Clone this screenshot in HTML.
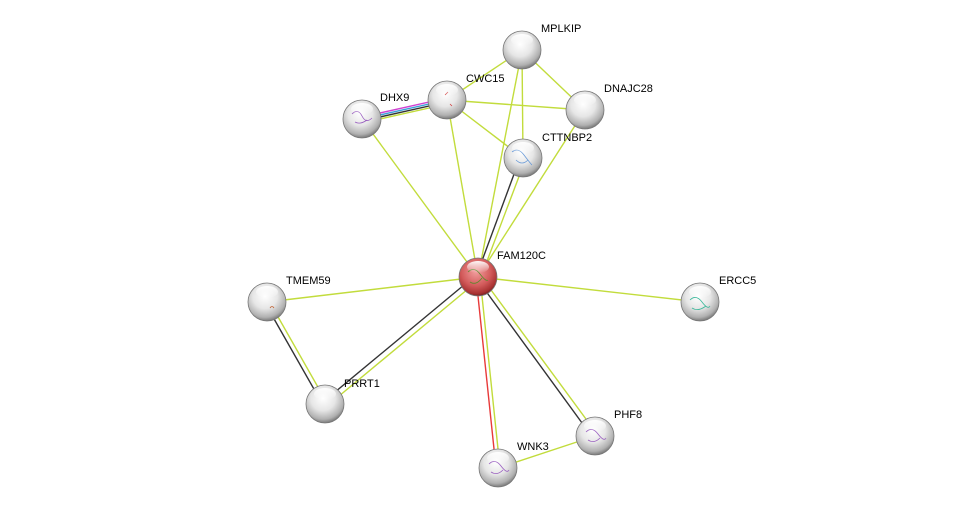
<!DOCTYPE html>
<html><head><meta charset="utf-8"><style>
html,body{margin:0;padding:0;background:#fff;}
svg{display:block;}
text{font-family:"Liberation Sans",sans-serif;font-size:11px;fill:#000;}
</style></head><body>
<svg width="976" height="513" viewBox="0 0 976 513" xmlns="http://www.w3.org/2000/svg">
<defs>
<radialGradient id="w" cx="45%" cy="35%" r="65%">
<stop offset="0" stop-color="#ffffff"/><stop offset="0.5" stop-color="#e6e6e6"/><stop offset="0.85" stop-color="#b0b0b0"/><stop offset="1" stop-color="#7a7a7a"/>
</radialGradient>
<radialGradient id="r" cx="45%" cy="35%" r="65%">
<stop offset="0" stop-color="#f2a0a0"/><stop offset="0.6" stop-color="#d25a5a"/><stop offset="0.9" stop-color="#a83232"/><stop offset="1" stop-color="#7a1f1f"/>
</radialGradient>
<linearGradient id="hl" x1="0" y1="0" x2="0" y2="1">
<stop offset="0" stop-color="#fff" stop-opacity="0.95"/><stop offset="1" stop-color="#fff" stop-opacity="0"/>
</linearGradient>
</defs>
<g stroke-width="1.4" fill="none">
<g stroke="#c2dc3c">
<line x1="522" y1="50" x2="447" y2="100"/>
<line x1="522" y1="50" x2="585" y2="110"/>
<line x1="522" y1="50" x2="523" y2="158"/>
<line x1="522" y1="50" x2="478" y2="277"/>
<line x1="447" y1="100" x2="585" y2="110"/>
<line x1="447" y1="100" x2="523" y2="158"/>
<line x1="447" y1="100" x2="478" y2="277"/>
<line x1="585" y1="110" x2="478" y2="277"/>
<line x1="362" y1="119" x2="478" y2="277"/>
<line x1="478" y1="277" x2="267" y2="302"/>
<line x1="478" y1="277" x2="700" y2="302"/>
<line x1="498" y1="468" x2="595" y2="436"/>
<line x1="481" y1="277" x2="526" y2="158"/>
<line x1="480" y1="279" x2="327" y2="406"/>
<line x1="480" y1="275" x2="597" y2="434"/>
<line x1="480" y1="277" x2="500" y2="468"/>
<line x1="269" y1="301" x2="327" y2="403"/>
<line x1="447" y1="104" x2="362" y2="123"/>
</g>
<g stroke="#333">
<line x1="476" y1="277" x2="520" y2="158"/>
<line x1="476" y1="275" x2="323" y2="402"/>
<line x1="477" y1="279" x2="593" y2="438"/>
<line x1="265" y1="303" x2="323" y2="405"/>
<line x1="447" y1="102" x2="362" y2="121"/>
</g>
<line stroke="#e83a3a" x1="476" y1="277" x2="496" y2="468"/>
<line stroke="#d040d0" x1="447" y1="98" x2="362" y2="117"/>
<line stroke="#3aa0d8" x1="447" y1="100" x2="362" y2="119"/>
</g>
<g stroke="#777" stroke-width="0.8">
<circle cx="522" cy="50" r="19" fill="url(#w)"/>
<circle cx="447" cy="100" r="19" fill="url(#w)"/>
<circle cx="585" cy="110" r="19" fill="url(#w)"/>
<circle cx="362" cy="119" r="19" fill="url(#w)"/>
<circle cx="523" cy="158" r="19" fill="url(#w)"/>
<circle cx="478" cy="277" r="19" fill="url(#r)"/>
<circle cx="267" cy="302" r="19" fill="url(#w)"/>
<circle cx="700" cy="302" r="19" fill="url(#w)"/>
<circle cx="325" cy="404" r="19" fill="url(#w)"/>
<circle cx="595" cy="436" r="19" fill="url(#w)"/>
<circle cx="498" cy="468" r="19" fill="url(#w)"/>
</g>
<g fill="none" stroke-width="0.8">
<path d="M352 114 q6 -6 10 2 t10 2 M355 122 q5 3 12 -2" stroke="#9a5fc0"/>
<path d="M512 152 q6 -5 12 3 t8 10 M516 160 q6 6 12 0" stroke="#6a9bd8"/>
<path d="M468 272 q6 -6 12 2 t8 6 M470 282 q6 4 12 -4" stroke="#5a8a2a"/>
<path d="M690 300 q6 -6 12 2 t8 4 M692 308 q6 4 14 -2" stroke="#3ab89a"/>
<path d="M586 432 q6 -6 12 2 t8 4 M588 440 q6 4 12 -2" stroke="#9a5fc0"/>
<path d="M489 464 q6 -6 12 2 t8 4 M491 472 q6 4 12 -2" stroke="#9a5fc0"/>
<path d="M445 95 l3 -3 M450 104 l2 2" stroke="#d04040"/>
<path d="M270 308 q2 -3 4 0" stroke="#c06030"/>
</g>
<g fill="url(#hl)">
<ellipse cx="522" cy="40" rx="11" ry="6"/><ellipse cx="447" cy="90" rx="11" ry="6"/>
<ellipse cx="585" cy="100" rx="11" ry="6"/><ellipse cx="362" cy="109" rx="11" ry="6"/>
<ellipse cx="523" cy="148" rx="11" ry="6"/><ellipse cx="478" cy="267" rx="11" ry="6"/>
<ellipse cx="267" cy="292" rx="11" ry="6"/><ellipse cx="700" cy="292" rx="11" ry="6"/>
<ellipse cx="325" cy="394" rx="11" ry="6"/><ellipse cx="595" cy="426" rx="11" ry="6"/>
<ellipse cx="498" cy="458" rx="11" ry="6"/>
</g>
<text x="541" y="32">MPLKIP</text>
<text x="466" y="82">CWC15</text>
<text x="604" y="92">DNAJC28</text>
<text x="380" y="101">DHX9</text>
<text x="542" y="141">CTTNBP2</text>
<text x="497" y="259">FAM120C</text>
<text x="286" y="284">TMEM59</text>
<text x="719" y="284">ERCC5</text>
<text x="344" y="387">PRRT1</text>
<text x="614" y="418">PHF8</text>
<text x="517" y="450">WNK3</text>
</svg>
</body></html>
